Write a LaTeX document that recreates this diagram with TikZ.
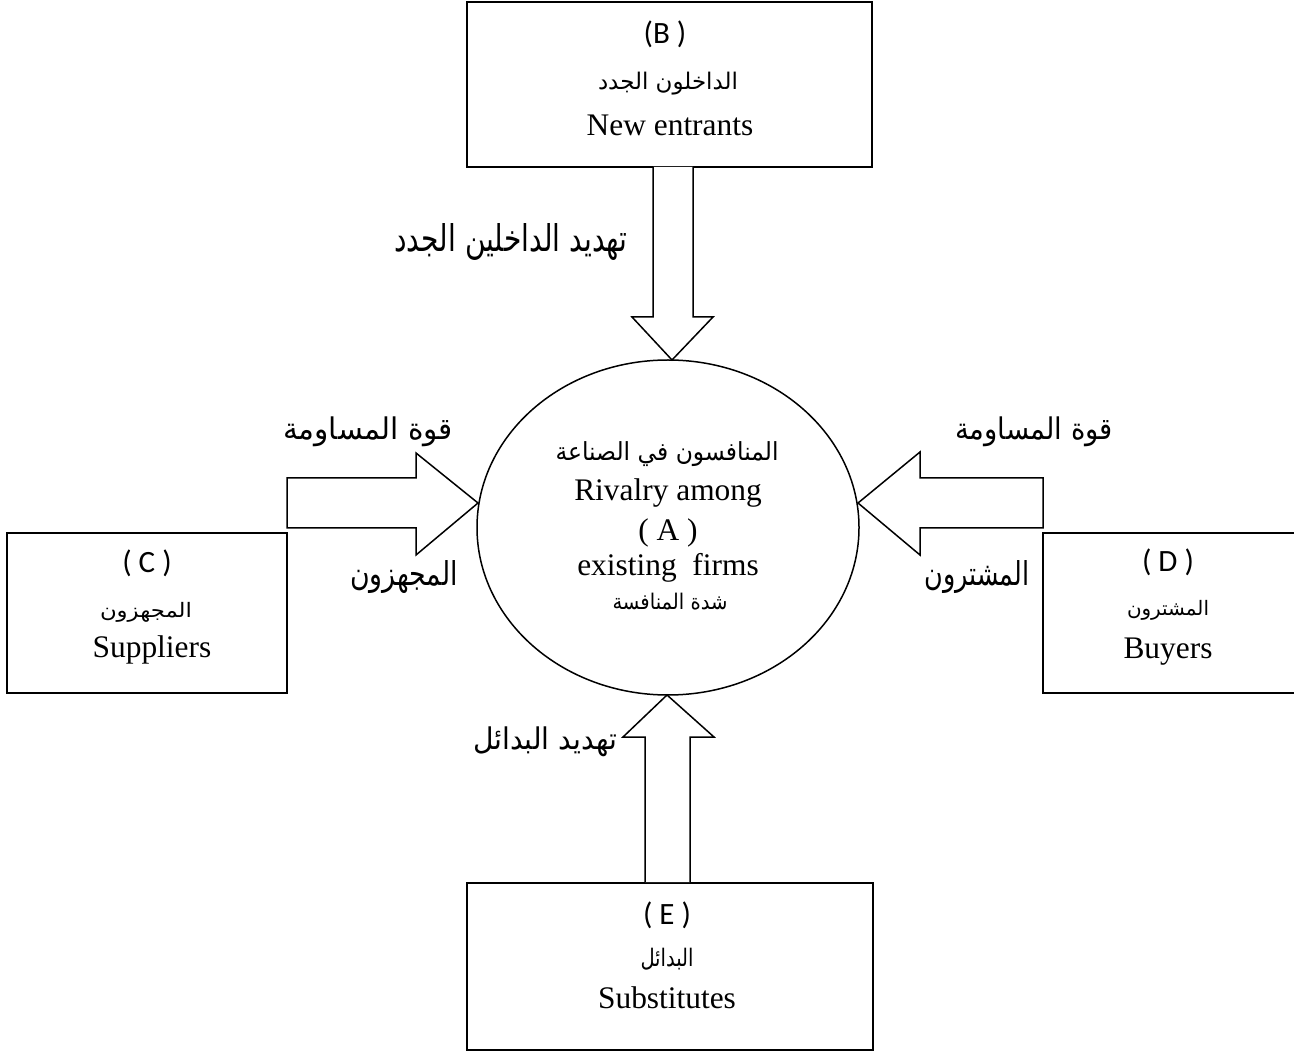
\documentclass[tikz,border=0pt]{standalone}
\usepackage{fontspec}
\usepackage{graphicx}
\setmainfont{Liberation Serif}
\newfontfamily\lblsans{Carlito}
\newfontfamily\arabicfont[Script=Arabic]{DejaVu Sans}
\TeXXeTstate=1
\usetikzlibrary{shapes.geometric}
% #1 width (pt), #2 total height (pt), #3 Arabic text
\newcommand{\arw}[3]{\resizebox*{#1pt}{#2pt}{\arabicfont #3}}
\tikzset{
  frame/.style={draw, line width=0.75pt, inner sep=0pt},
  blockarrow/.style={draw, line width=0.75pt, line join=miter, fill=white},
  txt/.style={inner sep=0pt, anchor=center},
  en/.style={txt, font=\fontsize{15.7}{18}\selectfont},
  lt/.style={txt, font=\lblsans\fontsize{15.5}{18}\selectfont},
}
\begin{document}
\begin{tikzpicture}[x=0.5pt, y=-0.5pt]
\useasboundingbox (0,0) rectangle (1294,1052);
\fill[white] (0,0) rectangle (1294,1052);

% boxes
\node[frame, minimum width=202.5pt, minimum height=82.5pt] (B) at (669.5,84.5) {};
\node[frame, minimum width=140pt, minimum height=80pt] (C) at (147,613) {};
\node[frame, minimum width=126.5pt, minimum height=80pt] (D) at (1169.5,613) {};
\node[frame, minimum width=203pt, minimum height=83.5pt] (E) at (670,966.5) {};
% ellipse
\node[frame, ellipse, minimum width=191pt, minimum height=167.5pt] (A) at (668,527.5) {};

% block arrows
\draw[blockarrow] (653,167) -- (653,317) -- (632,317) -- (672,360) -- (713,317) -- (693,317) -- (693,167);
\draw[blockarrow] (287,478) -- (416,478) -- (416,453) -- (478,503) -- (416,555) -- (416,528) -- (287,528) -- cycle;
\draw[blockarrow] (1043,478) -- (920,478) -- (920,452) -- (858,503) -- (920,555) -- (920,528) -- (1043,528) -- cycle;
\draw[blockarrow] (645,882) -- (645,737) -- (623,737) -- (667,695) -- (714,737) -- (690,737) -- (690,882);

% texts in B
\node[lt] (Bt1) at (665,34) {(B )};
\node[txt] (Bt2) at (668,84) {\arw{70}{11.5}{\beginR الداخلون الجدد\endR}};
\node[en] (Bt3) at (670,125) {New entrants};
% texts in C
\node[lt] (Ct1) at (147,563) {( C )};
\node[txt] (Ct2) at (146,612) {\arw{46}{10}{\beginR المجهزون\endR}};
\node[en] (Ct3) at (152,650) {Suppliers};
% texts in D
\node[lt] (Dt1) at (1168,562) {( D )};
\node[txt] (Dt2) at (1168,610) {\arw{41}{10}{\beginR المشترون\endR}};
\node[en] (Dt3) at (1168,652) {Buyers};
% texts in E
\node[lt] (Et1) at (667,915) {( E )};
\node[txt] (Et2) at (667,959) {\arw{26.5}{11}{\beginR البدائل\endR}};
\node[en] (Et3) at (667,998) {Substitutes};
% texts in A
\node[txt] (At1) at (667,454) {\arw{111.5}{12.5}{\beginR المنافسون في الصناعة\endR}};
\node[en] (At2) at (668,493) {Rivalry among};
\node[en] (At3) at (668,533) {( A )};
\node[en] (At4) at (668,568) {existing\ \ firms};
\node[txt] (At5) at (670,602) {\arw{57.5}{8.5}{\beginR شدة المنافسة\endR}};

% arrow labels
\node[txt] (L1) at (511,242) {\arw{116.5}{18.5}{\beginR تهديد الداخلين الجدد\endR}};
\node[txt] (L2) at (368,432) {\arw{85}{15}{\beginR قوة المساومة\endR}};
\node[txt] (L3) at (404,577) {\arw{54}{16.5}{\beginR المجهزون\endR}};
\node[txt] (L4) at (1034,432) {\arw{79}{15}{\beginR قوة المساومة\endR}};
\node[txt] (L5) at (977,577) {\arw{52.5}{16.5}{\beginR المشترون\endR}};
\node[txt] (L6) at (545,742) {\arw{72}{15}{\beginR تهديد البدائل\endR}};
\end{tikzpicture}
\end{document}
